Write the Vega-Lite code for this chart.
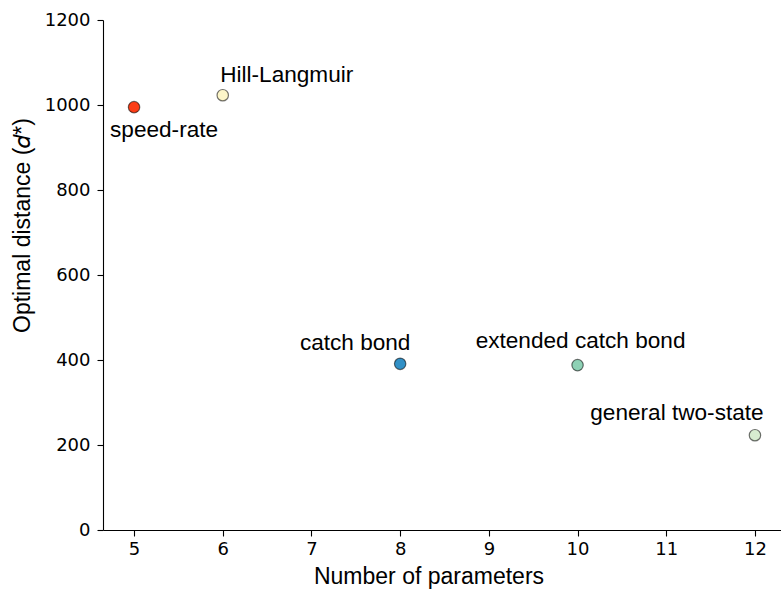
{
  "$schema": "https://vega.github.io/schema/vega-lite/v6.json",
  "autosize": "none",
  "padding": {"left": 103, "top": 20, "right": 0, "bottom": 65},
  "width": 683,
  "height": 510,
  "background": "white",
  "config": {
    "view": {"stroke": null},
    "axis": {
      "grid": false,
      "domainColor": "black",
      "domainWidth": 1.1,
      "tickColor": "black",
      "tickWidth": 1.1,
      "tickSize": 6,
      "labelFont": "DejaVu Sans",
      "labelFontSize": 18,
      "labelColor": "black",
      "format": "d",
      "titleFont": "Liberation Sans",
      "titleFontSize": 23,
      "titleFontWeight": "normal",
      "titleColor": "black"
    }
  },
  "data": {
    "values": [
      {"model": "speed-rate", "params": 5, "distance": 995, "color": "#fc3d16"},
      {"model": "Hill-Langmuir", "params": 6, "distance": 1023, "color": "#fdf6c9"},
      {"model": "catch bond", "params": 8, "distance": 391, "color": "#3190c6"},
      {"model": "extended catch bond", "params": 10, "distance": 388, "color": "#8ed1b5"},
      {"model": "general two-state", "params": 12, "distance": 223, "color": "#d7ecd0"}
    ]
  },
  "encoding": {
    "x": {
      "field": "params",
      "type": "quantitative",
      "scale": {"domain": [4.65, 12.35], "nice": false, "zero": false},
      "axis": {
        "values": [5, 6, 7, 8, 9, 10, 11, 12],
        "labelPadding": 4,
        "title": "Number of parameters",
        "titleX": 325.5,
        "titleY": 53,
        "titleBaseline": "alphabetic",
        "titleAnchor": null
      }
    },
    "y": {
      "field": "distance",
      "type": "quantitative",
      "scale": {"domain": [0, 1200], "nice": false},
      "axis": {
        "values": [0, 200, 400, 600, 800, 1000, 1200],
        "labelPadding": 7,
        "title": "Optimal distance (𝑑*)",
        "titleAngle": 270,
        "titleX": -81,
        "titleY": 205,
        "titleAlign": "center",
        "titleBaseline": "middle"
      }
    }
  },
  "layer": [
    {
      "mark": {"type": "point", "filled": true, "size": 130, "opacity": 1, "stroke": "black", "strokeOpacity": 0.55, "strokeWidth": 1.2},
      "encoding": {"color": {"field": "color", "type": "nominal", "scale": null}}
    },
    {
      "transform": [{"filter": "datum.model === 'speed-rate'"}],
      "mark": {"type": "text", "font": "Liberation Sans", "fontSize": 22.6, "align": "center", "baseline": "alphabetic", "dx": 30, "dy": 30, "color": "black"},
      "encoding": {"text": {"field": "model"}}
    },
    {
      "transform": [{"filter": "datum.model === 'Hill-Langmuir'"}],
      "mark": {"type": "text", "font": "Liberation Sans", "fontSize": 22.6, "align": "center", "baseline": "alphabetic", "dx": 64, "dy": -13, "color": "black"},
      "encoding": {"text": {"field": "model"}}
    },
    {
      "transform": [{"filter": "datum.model === 'catch bond'"}],
      "mark": {"type": "text", "font": "Liberation Sans", "fontSize": 22.6, "align": "center", "baseline": "alphabetic", "dx": -45, "dy": -14, "color": "black"},
      "encoding": {"text": {"field": "model"}}
    },
    {
      "transform": [{"filter": "datum.model === 'extended catch bond'"}],
      "mark": {"type": "text", "font": "Liberation Sans", "fontSize": 22.6, "align": "center", "baseline": "alphabetic", "dx": 3, "dy": -17, "color": "black"},
      "encoding": {"text": {"field": "model"}}
    },
    {
      "transform": [{"filter": "datum.model === 'general two-state'"}],
      "mark": {"type": "text", "font": "Liberation Sans", "fontSize": 22.6, "align": "center", "baseline": "alphabetic", "dx": -78, "dy": -15, "color": "black"},
      "encoding": {"text": {"field": "model"}}
    }
  ]
}
